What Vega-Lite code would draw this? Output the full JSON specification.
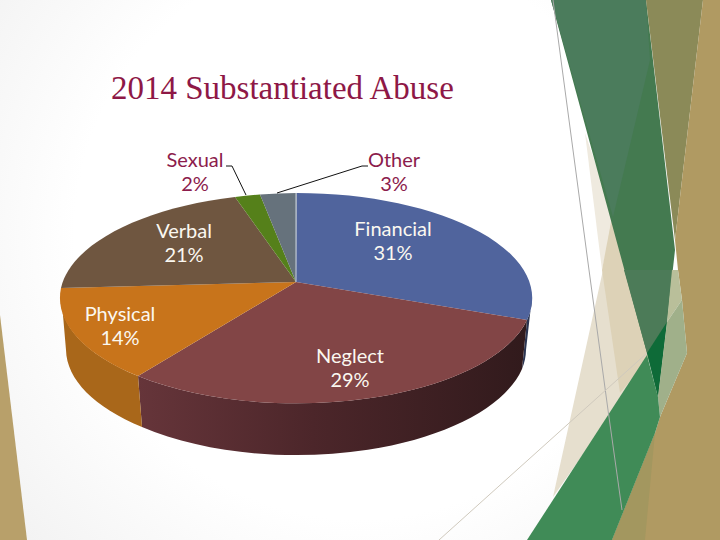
{"$schema":"https://vega.github.io/schema/vega-lite/v6.json","width":720,"height":540,"autosize":"none","padding":0,"background":"#ffffff","view":{"stroke":null},"config":{"axis":{"disable":true}},
"data":{"values":[{"Slice":"Financial","Percent":31},{"Slice":"Neglect","Percent":29},{"Slice":"Physical","Percent":14},{"Slice":"Verbal","Percent":21},{"Slice":"Sexual","Percent":2},{"Slice":"Other","Percent":3}]},
"transform":[{"calculate":"datum.Slice + '|' + datum.Percent + '%'","as":"Label"}],
"resolve":{"scale":{"shape":"independent","color":"independent"}},
"layer":[
{"data":{"values":[{"Part":"backdrop"}]},"mark":{"type":"point","shape":"M0,0H720V540H0Z","size":4,"strokeWidth":0,"opacity":1,"fill":{"gradient":"radial","x1":0.5,"y1":0.45,"x2":0.5,"y2":0.45,"r1":0,"r2":0.72,"stops":[{"offset":0,"color":"#ffffff"},{"offset":0.55,"color":"#ffffff"},{"offset":1,"color":"#eeeeee"}]}},"encoding":{"x":{"datum":0,"type":"quantitative","scale":{"domain":[0,720],"nice":false,"zero":false},"axis":null},"y":{"datum":0,"type":"quantitative","scale":{"domain":[540,0],"nice":false,"zero":false},"axis":null}}},
{"data":{"values":[{"Part":"a"},{"Part":"b"},{"Part":"c"},{"Part":"d"},{"Part":"e"},{"Part":"f"},{"Part":"g"},{"Part":"h"},{"Part":"i"},{"Part":"j"},{"Part":"k"},{"Part":"l"},{"Part":"m"},{"Part":"n"}]},"mark":{"type":"point","filled":true,"size":4,"strokeWidth":0,"opacity":1},"encoding":{"x":{"datum":0,"type":"quantitative","scale":{"domain":[0,720],"nice":false,"zero":false},"axis":null},"y":{"datum":0,"type":"quantitative","scale":{"domain":[540,0],"nice":false,"zero":false},"axis":null},
"shape":{"field":"Part","type":"nominal","legend":null,"scale":{"domain":["a","b","c","d","e","f","g","h","i","j","k","l","m","n"],"range":["M0,315L27,540L0,540Z","M585,133L614,217L602,270Z","M603,270L612,217L660,345L553,497Z","M602,270L612,217L660,345L620,393Z","M551,0L646,0L675,250L667,322L658,397L647,353Z","M551,0L646,0L650,60L613,217Z","M624,270L672,270L667,322L647,353Z","M667,322L658,397L647,353Z","M646,0L703,0L675,240Z","M703,0L720,0L720,540L612,540L655,433L660,417L687,353L682,300L678,270L675,240Z","M612,540L655,433L645,540Z","M672,270L678,270L682,300L667,322Z","M667,322L682,300L687,353L660,417L658,397Z","M527,540L647,355L658,397L660,417L655,433L612,540Z"]}},
"color":{"field":"Part","type":"nominal","legend":null,"scale":{"domain":["a","b","c","d","e","f","g","h","i","j","k","l","m","n"],"range":["#b8a06a","#efeadf","#e6dfce","#ddd2b7","#447a50","#4b7c5c","#4c7b58","#0e6b38","#8b8a58","#b09a62","#a3975f","#b9bf9a","#a0b08a","#408b57"]}}}},
{"data":{"values":[{"Part":"line one"}]},"mark":{"type":"point","shape":"M553,0L589,270L608,410L622,510","size":4,"filled":false,"stroke":"#a9a9a9","strokeWidth":1,"opacity":1},"encoding":{"x":{"datum":0,"type":"quantitative","scale":{"domain":[0,720],"nice":false,"zero":false},"axis":null},"y":{"datum":0,"type":"quantitative","scale":{"domain":[540,0],"nice":false,"zero":false},"axis":null}}},
{"data":{"values":[{"Part":"line two"}]},"mark":{"type":"point","shape":"M439,540L647,353","size":4,"filled":false,"stroke":"#cfc9bd","strokeWidth":1,"opacity":1},"encoding":{"x":{"datum":0,"type":"quantitative","scale":{"domain":[0,720],"nice":false,"zero":false},"axis":null},"y":{"datum":0,"type":"quantitative","scale":{"domain":[540,0],"nice":false,"zero":false},"axis":null}}},
{"transform":[{"filter":"datum.Slice==='Financial'"}],"mark":{"type":"point","shape":"M532,297A235.5,105,0,0,1,527,320L522,369A230,105,0,0,0,526,350Z","size":4,"strokeWidth":0,"opacity":1,"fill":"#2b3552"},"encoding":{"x":{"datum":0,"type":"quantitative","scale":{"domain":[0,720],"nice":false,"zero":false},"axis":null},"y":{"datum":0,"type":"quantitative","scale":{"domain":[540,0],"nice":false,"zero":false},"axis":null}}},
{"transform":[{"filter":"datum.Slice==='Neglect'"}],"mark":{"type":"point","shape":"M527,320A235.5,105,0,0,1,138,376L142,427A230,108,0,0,0,522,369Z","size":4,"strokeWidth":0,"opacity":1,"fill":{"gradient":"linear","x1":0,"y1":0,"x2":1,"y2":0,"stops":[{"offset":0,"color":"#66353a"},{"offset":0.45,"color":"#4c262a"},{"offset":1,"color":"#311a1c"}]}},"encoding":{"x":{"datum":0,"type":"quantitative","scale":{"domain":[0,720],"nice":false,"zero":false},"axis":null},"y":{"datum":0,"type":"quantitative","scale":{"domain":[540,0],"nice":false,"zero":false},"axis":null}}},
{"transform":[{"filter":"datum.Slice==='Physical'"}],"mark":{"type":"point","shape":"M138,376A235.5,105,0,0,1,61,292L66,350A230,105,0,0,0,142,427Z","size":4,"strokeWidth":0,"opacity":1,"fill":"#a9671a"},"encoding":{"x":{"datum":0,"type":"quantitative","scale":{"domain":[0,720],"nice":false,"zero":false},"axis":null},"y":{"datum":0,"type":"quantitative","scale":{"domain":[540,0],"nice":false,"zero":false},"axis":null}}},
{"mark":{"type":"point","filled":true,"size":4,"strokeWidth":0,"opacity":1},"encoding":{"x":{"datum":0,"type":"quantitative","scale":{"domain":[0,720],"nice":false,"zero":false},"axis":null},"y":{"datum":0,"type":"quantitative","scale":{"domain":[540,0],"nice":false,"zero":false},"axis":null},
"shape":{"field":"Slice","type":"nominal","legend":null,"scale":{"domain":["Financial","Neglect","Physical","Verbal","Sexual","Other"],"range":["M296,282L296.5,193A235.5,105,0,0,1,527,320Z","M296,282L527,320A235.5,105,0,0,1,138,376Z","M296,282L138,376A235.5,105,0,0,1,61,288Z","M296,282L61,288A235.5,105,0,0,1,235,197Z","M296,282L235,197A235.5,105,0,0,1,260,194.5Z","M296,282L260,194.5A235.5,105,0,0,1,296.5,193Z"]}},
"color":{"field":"Slice","type":"nominal","legend":null,"scale":{"domain":["Financial","Neglect","Physical","Verbal","Sexual","Other"],"range":["#50649d","#824546","#c8741b","#6f5640","#55801a","#66727c"]}}}},
{"data":{"values":[{"Part":"seam"}]},"mark":{"type":"point","shape":"M296,193L296,282","size":4,"filled":false,"stroke":"#c9d2de","strokeWidth":1,"opacity":1},"encoding":{"x":{"datum":0,"type":"quantitative","scale":{"domain":[0,720],"nice":false,"zero":false},"axis":null},"y":{"datum":0,"type":"quantitative","scale":{"domain":[540,0],"nice":false,"zero":false},"axis":null}}},
{"data":{"values":[{"Part":"leader Sexual"}]},"mark":{"type":"point","shape":"M226,166L232,166L246,195","size":4,"filled":false,"stroke":"#111111","strokeWidth":1,"opacity":1},"encoding":{"x":{"datum":0,"type":"quantitative","scale":{"domain":[0,720],"nice":false,"zero":false},"axis":null},"y":{"datum":0,"type":"quantitative","scale":{"domain":[540,0],"nice":false,"zero":false},"axis":null}}},
{"data":{"values":[{"Part":"leader Other"}]},"mark":{"type":"point","shape":"M368,166L362,166L277,193","size":4,"filled":false,"stroke":"#111111","strokeWidth":1,"opacity":1},"encoding":{"x":{"datum":0,"type":"quantitative","scale":{"domain":[0,720],"nice":false,"zero":false},"axis":null},"y":{"datum":0,"type":"quantitative","scale":{"domain":[540,0],"nice":false,"zero":false},"axis":null}}},
{"transform":[{"filter":"datum.Slice==='Sexual'"}],"mark":{"type":"text","font":"Lato","fontSize":20,"lineHeight":24,"lineBreak":"|","align":"center","baseline":"middle","fill":"#8c1c4c"},"encoding":{"text":{"field":"Label"},"x":{"datum":195,"type":"quantitative","scale":{"domain":[0,720],"nice":false,"zero":false},"axis":null},"y":{"datum":161,"type":"quantitative","scale":{"domain":[540,0],"nice":false,"zero":false},"axis":null}}},
{"transform":[{"filter":"datum.Slice==='Other'"}],"mark":{"type":"text","font":"Lato","fontSize":20,"lineHeight":24,"lineBreak":"|","align":"center","baseline":"middle","fill":"#8c1c4c"},"encoding":{"text":{"field":"Label"},"x":{"datum":394,"type":"quantitative","scale":{"domain":[0,720],"nice":false,"zero":false},"axis":null},"y":{"datum":161,"type":"quantitative","scale":{"domain":[540,0],"nice":false,"zero":false},"axis":null}}},
{"transform":[{"filter":"datum.Slice==='Verbal'"}],"mark":{"type":"text","font":"Lato","fontSize":20,"lineHeight":24,"lineBreak":"|","align":"center","baseline":"middle","fill":"#fbf8f0"},"encoding":{"text":{"field":"Label"},"x":{"datum":184,"type":"quantitative","scale":{"domain":[0,720],"nice":false,"zero":false},"axis":null},"y":{"datum":232,"type":"quantitative","scale":{"domain":[540,0],"nice":false,"zero":false},"axis":null}}},
{"transform":[{"filter":"datum.Slice==='Financial'"}],"mark":{"type":"text","font":"Lato","fontSize":20,"lineHeight":24,"lineBreak":"|","align":"center","baseline":"middle","fill":"#fbf8f0"},"encoding":{"text":{"field":"Label"},"x":{"datum":393,"type":"quantitative","scale":{"domain":[0,720],"nice":false,"zero":false},"axis":null},"y":{"datum":230,"type":"quantitative","scale":{"domain":[540,0],"nice":false,"zero":false},"axis":null}}},
{"transform":[{"filter":"datum.Slice==='Physical'"}],"mark":{"type":"text","font":"Lato","fontSize":20,"lineHeight":24,"lineBreak":"|","align":"center","baseline":"middle","fill":"#fbf8f0"},"encoding":{"text":{"field":"Label"},"x":{"datum":120,"type":"quantitative","scale":{"domain":[0,720],"nice":false,"zero":false},"axis":null},"y":{"datum":315,"type":"quantitative","scale":{"domain":[540,0],"nice":false,"zero":false},"axis":null}}},
{"transform":[{"filter":"datum.Slice==='Neglect'"}],"mark":{"type":"text","font":"Lato","fontSize":20,"lineHeight":24,"lineBreak":"|","align":"center","baseline":"middle","fill":"#fbf8f0"},"encoding":{"text":{"field":"Label"},"x":{"datum":350,"type":"quantitative","scale":{"domain":[0,720],"nice":false,"zero":false},"axis":null},"y":{"datum":357,"type":"quantitative","scale":{"domain":[540,0],"nice":false,"zero":false},"axis":null}}},
{"data":{"values":[{"Title":"2014 Substantiated Abuse"}]},"mark":{"type":"text","font":"Liberation Serif","fontSize":33,"align":"left","baseline":"alphabetic","fill":"#8e1846"},"encoding":{"text":{"field":"Title"},"x":{"datum":111,"type":"quantitative","scale":{"domain":[0,720],"nice":false,"zero":false},"axis":null},"y":{"datum":99,"type":"quantitative","scale":{"domain":[540,0],"nice":false,"zero":false},"axis":null}}}
]}
